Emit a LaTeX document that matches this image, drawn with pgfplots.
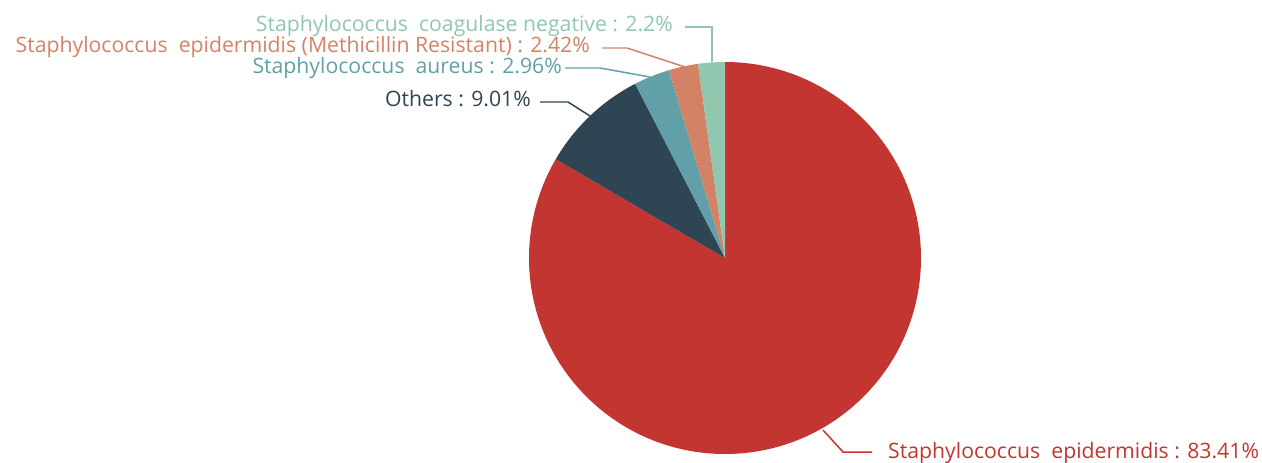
\documentclass[border=0pt]{standalone}
\usepackage{fontspec}
\setmainfont{Open Sans}
\usepackage{pgfplots}
\pgfplotsset{compat=1.18}
\usepackage{pgfplotstable}

\definecolor{cRed}{HTML}{C23531}
\definecolor{cDark}{HTML}{2F4554}
\definecolor{cTeal}{HTML}{61A0A8}
\definecolor{cOrange}{HTML}{D48265}
\definecolor{cGreen}{HTML}{91C7AE}

% share in percent, cum = sum of the shares before it (clockwise from top)
\pgfplotstableread{
name share cum   x   y
epi  83.41 0     725 258
oth  9.01  83.41 725 258
aur  2.96  92.42 725 258
mr   2.42  95.38 725 258
cn   2.2   97.80 725 258
}\slices

% one pie slice, radius 196 px
\pgfdeclareplotmark{slice}{%
  \pgfmathsetmacro\aS{90-3.6*\cumv}%
  \pgfmathsetmacro\aE{90-3.6*(\cumv+\sharev)}%
  \pgfpathmoveto{\pgfpointorigin}%
  \pgfpathlineto{\pgfpointpolar{\aS}{196bp}}%
  \pgfpatharc{\aS}{\aE}{196bp}%
  \pgfpathclose
  \pgfusepathqfill
}

\begin{document}
\begin{tikzpicture}
\useasboundingbox (0,0) rectangle (1262bp,463bp);
\begin{axis}[
	at={(0,0)}, anchor=south west,
	scale only axis,
	width=1262bp, height=463bp,
	xmin=0, xmax=1262, ymin=0, ymax=463,
	y dir=reverse,
	hide axis,
	clip=false]

	% slices
	\addplot[scatter, only marks, mark=slice,
		point meta=explicit symbolic,
		visualization depends on={\thisrow{share}\as\sharev},
		visualization depends on={\thisrow{cum}\as\cumv},
		scatter/classes={
			epi={fill=cRed}, oth={fill=cDark}, aur={fill=cTeal},
			mr={fill=cOrange}, cn={fill=cGreen}}]
		table[x=x, y=y, meta=name]{\slices};

	% leader lines
	\addplot[cGreen, line width=1.5pt] coordinates {(685,27) (712,27) (712,62)};
	\addplot[cOrange, line width=1.5pt] coordinates {(602,48) (627,48) (685,67)};
	\addplot[cTeal, line width=1.5pt] coordinates {(565,68) (600,68) (650,77)};
	\addplot[cDark, line width=1.5pt] coordinates {(540,102) (568,102) (590,116)};
	\addplot[cRed, line width=1.5pt] coordinates {(823,430) (843,452) (872,452)};

	% labels
	\tikzset{lbl/.style={inner sep=0pt, font=\fontsize{21.3}{23}\selectfont}}
	\node[lbl, anchor=base east, text=cGreen] at (673,32)
		{Staphylococcus\ \ coagulase negative : 2.2\%};
	\node[lbl, anchor=base east, text=cOrange] at (590,53)
		{Staphylococcus\ \ epidermidis (Methicillin Resistant) : 2.42\%};
	\node[lbl, anchor=base east, text=cTeal] at (562,74)
		{Staphylococcus\ \ aureus : 2.96\%};
	\node[lbl, anchor=base east, text=cDark] at (531,106)
		{Others : 9.01\%};
	\node[lbl, anchor=base west, text=cRed] at (888,458)
		{Staphylococcus\ \ epidermidis : 83.41\%};
\end{axis}
\end{tikzpicture}
\end{document}
